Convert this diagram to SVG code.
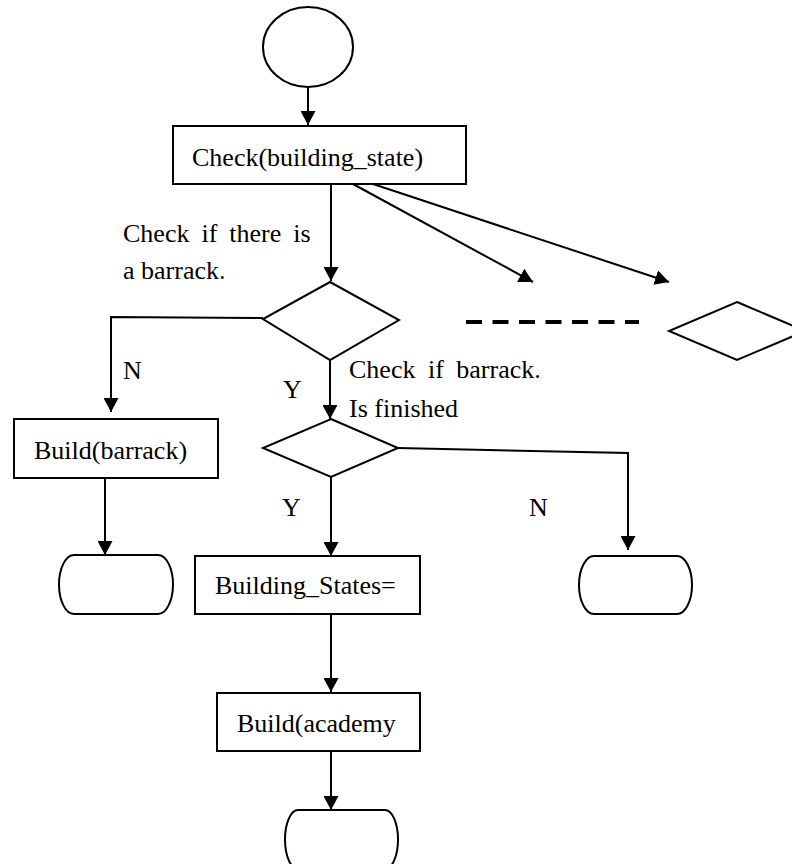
<svg xmlns="http://www.w3.org/2000/svg" width="792" height="864" viewBox="0 0 792 864">
  <style>
    .shape { fill: #fff; stroke: #000; stroke-width: 2; }
    .wire { fill: none; stroke: #000; stroke-width: 2; }
    .label { font-family: "Liberation Serif", "Times New Roman", serif; font-size: 26px; fill: #000; }
  </style>
  <defs>
    <marker id="arrow" markerUnits="userSpaceOnUse" markerWidth="15" markerHeight="15" refX="14" refY="7.5" orient="auto">
      <path d="M0,0 L14,7.5 L0,15 Z" fill="#000"/>
    </marker>
  </defs>

  <rect width="792" height="864" fill="#fff"/>

  <!-- connectors -->
  <g id="connectors">
    <line class="wire" x1="308" y1="87" x2="308" y2="125" marker-end="url(#arrow)"/>
    <line class="wire" x1="331" y1="184" x2="331" y2="281" marker-end="url(#arrow)"/>
    <line class="wire" x1="353" y1="184" x2="533" y2="282" marker-end="url(#arrow)"/>
    <line class="wire" x1="373" y1="184" x2="669" y2="282" marker-end="url(#arrow)"/>
    <polyline class="wire" points="263,318 111,317 111,412" marker-end="url(#arrow)"/>
    <line class="wire" x1="330" y1="360" x2="330" y2="419" marker-end="url(#arrow)"/>
    <polyline class="wire" points="398,448 628,453 628,550" marker-end="url(#arrow)"/>
    <line class="wire" x1="105" y1="478" x2="105" y2="555" marker-end="url(#arrow)"/>
    <line class="wire" x1="331" y1="477" x2="331" y2="556" marker-end="url(#arrow)"/>
    <line class="wire" x1="331" y1="614" x2="331" y2="692" marker-end="url(#arrow)"/>
    <line class="wire" x1="331" y1="751" x2="331" y2="810" marker-end="url(#arrow)"/>
    <line x1="466" y1="322" x2="639" y2="322" stroke="#000" stroke-width="4" stroke-dasharray="16 10.5"/>
  </g>

  <!-- nodes -->
  <g id="start">
    <ellipse class="shape" cx="308" cy="47" rx="45" ry="40"/>
  </g>
  <g id="check-state">
    <rect class="shape" x="173" y="126" width="293" height="58"/>
    <text class="label" x="192" y="166">Check(building_state)</text>
  </g>
  <g id="has-barrack">
    <polygon class="shape" points="330,282 399,320 330,360 263,319"/>
  </g>
  <g id="other-check">
    <polygon class="shape" points="737,302 805,331 737,360 669,331"/>
  </g>
  <g id="build-barrack">
    <rect class="shape" x="14" y="419" width="204" height="59"/>
    <text class="label" x="34" y="459">Build(barrack)</text>
  </g>
  <g id="barrack-done">
    <polygon class="shape" points="331,419 398,448 331,477 263,448"/>
  </g>
  <g id="end-left">
    <rect class="shape" x="59" y="555" width="114" height="59" rx="15" ry="29.5"/>
  </g>
  <g id="set-states">
    <rect class="shape" x="195" y="556" width="225" height="58"/>
    <text class="label" x="215" y="594">Building_States=</text>
  </g>
  <g id="end-right">
    <rect class="shape" x="579" y="556" width="113" height="58" rx="15" ry="29"/>
  </g>
  <g id="build-academy">
    <rect class="shape" x="217" y="693" width="203" height="58"/>
    <text class="label" x="237" y="732">Build(academy</text>
  </g>
  <g id="end-bottom">
    <rect class="shape" x="285" y="810" width="113" height="59" rx="13" ry="29.5"/>
  </g>

  <!-- edge labels -->
  <g id="labels">
    <text class="label" x="123" y="242" word-spacing="5.5">Check if there is</text>
    <text class="label" x="123" y="279">a barrack.</text>
    <text class="label" x="123" y="379">N</text>
    <text class="label" x="283" y="398">Y</text>
    <text class="label" x="349" y="378" word-spacing="6">Check if barrack.</text>
    <text class="label" x="349" y="417">Is finished</text>
    <text class="label" x="282" y="516">Y</text>
    <text class="label" x="529" y="516">N</text>
  </g>
</svg>
